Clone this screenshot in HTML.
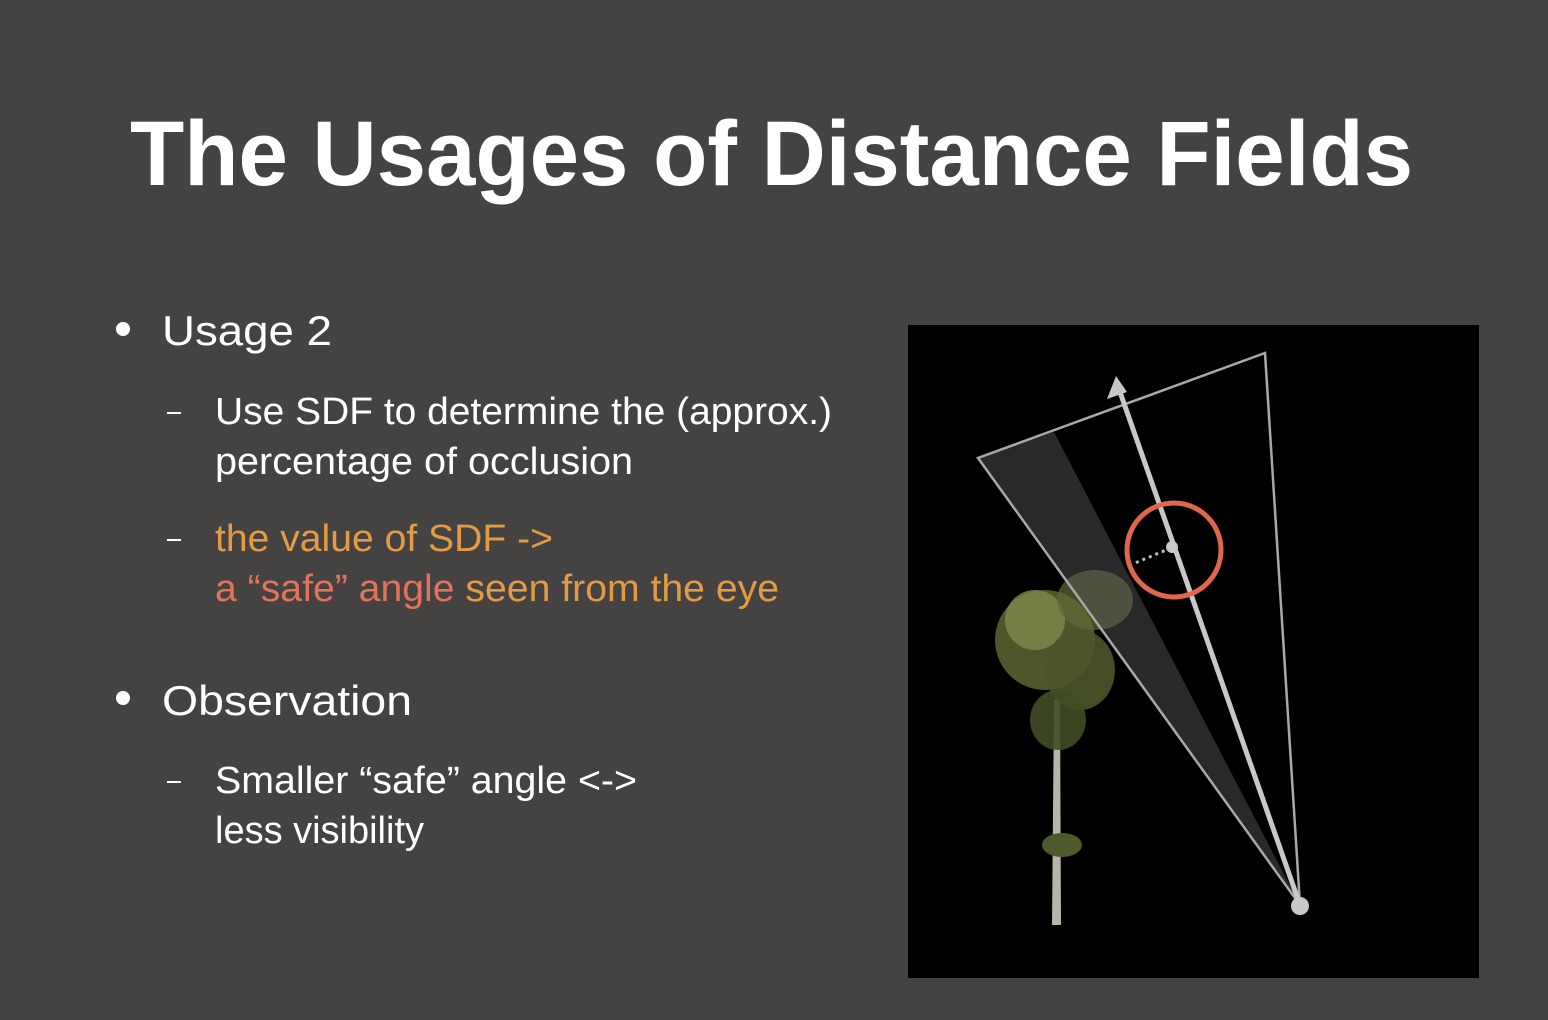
<!DOCTYPE html>
<html><head><meta charset="utf-8"><style>
html,body{margin:0;padding:0;background:#454342;}
svg{display:block;font-family:"Liberation Sans",sans-serif;}
</style></head><body>
<svg width="1548" height="1020" viewBox="0 0 1548 1020">
<rect width="1548" height="1020" fill="#454342"/>
<text x="130" y="185" font-size="92" font-weight="bold" fill="#ffffff" textLength="1283" lengthAdjust="spacingAndGlyphs">The Usages of Distance Fields</text>

<circle cx="123" cy="329" r="7" fill="#fff"/>
<text x="162" y="345" font-size="42" fill="#fff" textLength="170" lengthAdjust="spacingAndGlyphs">Usage 2</text>
<rect x="167" y="412" width="14" height="2" fill="#fff"/>
<text x="215" y="424" font-size="38" fill="#fff" textLength="617" lengthAdjust="spacingAndGlyphs">Use SDF to determine the (approx.)</text>
<text x="215" y="474" font-size="38" fill="#fff" textLength="418" lengthAdjust="spacingAndGlyphs">percentage of occlusion</text>
<rect x="167" y="539" width="14" height="2" fill="#fff"/>
<text x="215" y="551" font-size="38" fill="#e29a45" textLength="338" lengthAdjust="spacingAndGlyphs">the value of SDF -&gt;</text>
<text x="215" y="601" font-size="38" textLength="564" lengthAdjust="spacingAndGlyphs"><tspan fill="#e2725a">a “safe” angle</tspan><tspan fill="#e29a45"> seen from the eye</tspan></text>

<circle cx="123" cy="698" r="7" fill="#fff"/>
<text x="162" y="715" font-size="42" fill="#fff" textLength="250" lengthAdjust="spacingAndGlyphs">Observation</text>
<rect x="167" y="781" width="14" height="2" fill="#fff"/>
<text x="215" y="793" font-size="38" fill="#fff" textLength="422" lengthAdjust="spacingAndGlyphs">Smaller “safe” angle &lt;-&gt;</text>
<text x="215" y="843" font-size="38" fill="#fff" textLength="209" lengthAdjust="spacingAndGlyphs">less visibility</text>

<g>
<rect x="908" y="325" width="571" height="653" fill="#000"/>
<g>
<path d="M1052,925 L1054,700 L1060,700 L1061,925 Z" fill="#b9b4a8"/>
<ellipse cx="1045" cy="640" rx="50" ry="50" fill="#55602f" opacity="0.9"/>
<ellipse cx="1035" cy="620" rx="30" ry="30" fill="#7d8a4c" opacity="0.8"/>
<ellipse cx="1080" cy="670" rx="35" ry="40" fill="#4b5529" opacity="0.9"/>
<ellipse cx="1095" cy="600" rx="38" ry="30" fill="#5e6a36" opacity="0.7"/>
<ellipse cx="1058" cy="720" rx="28" ry="30" fill="#434c25" opacity="0.9"/>
<ellipse cx="1062" cy="845" rx="20" ry="12" fill="#4e5a2c"/>
</g>
<polygon points="978,458 1054,432 1300,905" fill="#5a5a5a" opacity="0.45"/>
<polyline points="1300,905 978,458 1265,353 1300,905" fill="none" stroke="#a8a8a8" stroke-width="2.5"/>
<line x1="1300" y1="905" x2="1120" y2="392" stroke="#c8c8c8" stroke-width="5"/>
<polygon points="1116,376 1107,399 1127,392" fill="#c8c8c8"/>
<line x1="1171" y1="548" x2="1135" y2="563" stroke="#bbb" stroke-width="3" stroke-dasharray="3,4"/>
<circle cx="1172" cy="547" r="6" fill="#c8c8c8"/>
<circle cx="1174" cy="550" r="47" fill="none" stroke="#e2664c" stroke-width="5"/>
<circle cx="1300" cy="906" r="9" fill="#c8c8c8"/>
</g>
</svg>
</body></html>
